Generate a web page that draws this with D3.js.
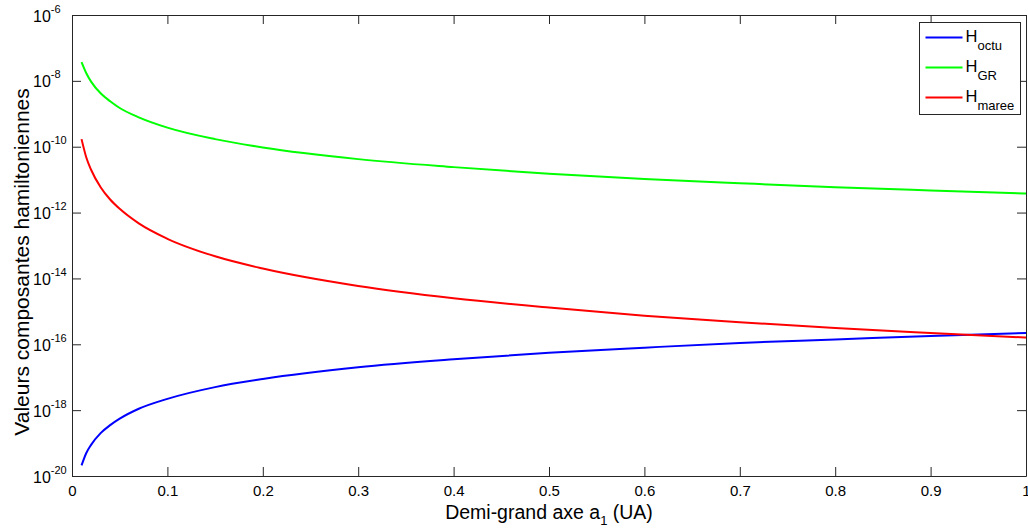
<!DOCTYPE html>
<html>
<head>
<meta charset="utf-8">
<script src="https://cdn.jsdelivr.net/npm/d3@7"></script>
<style>
  body { margin: 0; background: #fff; }
  svg { display: block; font-family: "Liberation Sans", Arial, sans-serif; }
</style>
</head>
<body>
<svg id="chart" width="1028" height="532"></svg>
<script>
// semi-major axis a1 (UA)
const aValues = [0.01, 0.015, 0.02, 0.03, 0.04, 0.05, 0.07, 0.1, 0.15, 0.2, 0.3, 0.4, 0.5, 0.6, 0.7, 0.8, 0.9, 1.0];
const hOctu = [2.1e-20, 5.0e-20, 8.8e-20, 2.0e-19, 3.5e-19, 5.5e-19, 1.1e-18, 2.2e-18, 5.0e-18, 8.8e-18, 2.0e-17, 3.5e-17, 5.5e-17, 7.9e-17, 1.1e-16, 1.4e-16, 1.8e-16, 2.2e-16];
const hGR = [3.7e-8, 1.7e-8, 9.5e-9, 4.2e-9, 2.4e-9, 1.5e-9, 7.8e-10, 3.8e-10, 1.7e-10, 9.5e-11, 4.2e-11, 2.4e-11, 1.5e-11, 1.05e-11, 7.8e-12, 5.9e-12, 4.7e-12, 3.8e-12];
const hMaree = [1.7e-10, 4.7e-11, 2.0e-11, 5.9e-12, 2.5e-12, 1.3e-12, 4.7e-13, 1.6e-13, 4.7e-14, 2.0e-14, 5.9e-15, 2.5e-15, 1.3e-15, 7.4e-16, 4.7e-16, 3.1e-16, 2.2e-16, 1.6e-16];

const xTicks = [0, 0.1, 0.2, 0.3, 0.4, 0.5, 0.6, 0.7, 0.8, 0.9, 1];
const yExponents = [-20, -18, -16, -14, -12, -10, -8, -6];

const series = [
  { name: 'octu', values: hOctu, color: '#0000ff' },
  { name: 'GR', values: hGR, color: '#00ff00' },
  { name: 'maree', values: hMaree, color: '#ff0000' }
];

const svg = d3.select('#chart');
const plotLeft = 72, plotRight = 1026, plotTop = 15, plotBottom = 476;
const axisColor = '#262626';

const x = d3.scaleLinear().domain([0, 1]).range([plotLeft, plotRight]);
const y = d3.scaleLog().domain([1e-20, 1e-6]).range([plotBottom, plotTop]);
const yTickVals = yExponents.map(e => Math.pow(10, e));

// curves
const line = d3.line()
  .x(d => x(d[0]))
  .y(d => y(d[1]))
  .curve(d3.curveMonotoneX);

series.forEach(s => {
  svg.append('path')
    .datum(aValues.map((a, i) => [a, s.values[i]]))
    .attr('fill', 'none')
    .attr('stroke', s.color)
    .attr('stroke-width', 2)
    .attr('d', line);
});

// axes (ticks pointing inward, box on all sides)
function styleAxis(g) {
  g.selectAll('path, line').attr('stroke', axisColor);
  g.selectAll('text').attr('fill', '#000').attr('font-family', '"Liberation Sans", Arial, sans-serif');
}

svg.append('g')
  .attr('transform', `translate(0,${plotBottom})`)
  .call(d3.axisBottom(x).tickValues(xTicks).tickSizeInner(-9).tickSizeOuter(0).tickPadding(9)
    .tickFormat(d3.format('~g')))
  .call(styleAxis)
  .call(g => g.selectAll('text').attr('font-size', 15));

svg.append('g')
  .attr('transform', `translate(0,${plotTop})`)
  .call(d3.axisTop(x).tickValues(xTicks).tickSizeInner(-9).tickSizeOuter(0).tickFormat(''))
  .call(styleAxis);

const yAxisG = svg.append('g')
  .attr('transform', `translate(${plotLeft},0)`)
  .call(d3.axisLeft(y).tickValues(yTickVals).tickSizeInner(-9).tickSizeOuter(0).tickFormat(''))
  .call(styleAxis);

// "10" with superscript exponent
yAxisG.selectAll('.tick').each(function(d) {
  const e = Math.round(Math.log10(d));
  const t = d3.select(this).append('text')
    .attr('x', -39)
    .attr('y', 6)
    .attr('text-anchor', 'start')
    .attr('fill', '#000')
    .attr('font-size', 16);
  t.append('tspan').text('10');
  t.append('tspan')
    .attr('dy', -9)
    .attr('font-size', 11)
    .text(String(e));
});

svg.append('g')
  .attr('transform', `translate(${plotRight},0)`)
  .call(d3.axisRight(y).tickValues(yTickVals).tickSizeInner(-9).tickSizeOuter(0).tickFormat(''))
  .call(styleAxis);

// axis labels
const xl = svg.append('text')
  .attr('x', x(0.5))
  .attr('y', 519)
  .attr('text-anchor', 'middle')
  .attr('font-size', 19.5)
  .attr('fill', '#000');
xl.append('tspan').text('Demi-grand axe a');
xl.append('tspan').attr('dy', 6).attr('font-size', 13).text('1');
xl.append('tspan').attr('dy', -6).text(' (UA)');

svg.append('text')
  .attr('transform', 'translate(29,262) rotate(-90)')
  .attr('text-anchor', 'middle')
  .attr('font-size', 21)
  .attr('fill', '#000')
  .text('Valeurs composantes hamiltoniennes');

// legend
const lg = svg.append('g').attr('transform', 'translate(919.5,22.5)');
lg.append('rect')
  .attr('width', 101)
  .attr('height', 92)
  .attr('fill', '#fff')
  .attr('stroke', axisColor);

series.forEach((s, i) => {
  const row = lg.append('g').attr('transform', `translate(0,${15 + i * 30})`);
  row.append('line')
    .attr('x1', 6).attr('x2', 43)
    .attr('stroke', s.color)
    .attr('stroke-width', 2);
  const t = row.append('text')
    .attr('x', 46)
    .attr('y', 4.5)
    .attr('font-size', 16.5)
    .attr('fill', '#000');
  t.append('tspan').text('H');
  t.append('tspan').attr('dy', 7.5).attr('font-size', 13).text(s.name);
});
</script>
</body>
</html>
